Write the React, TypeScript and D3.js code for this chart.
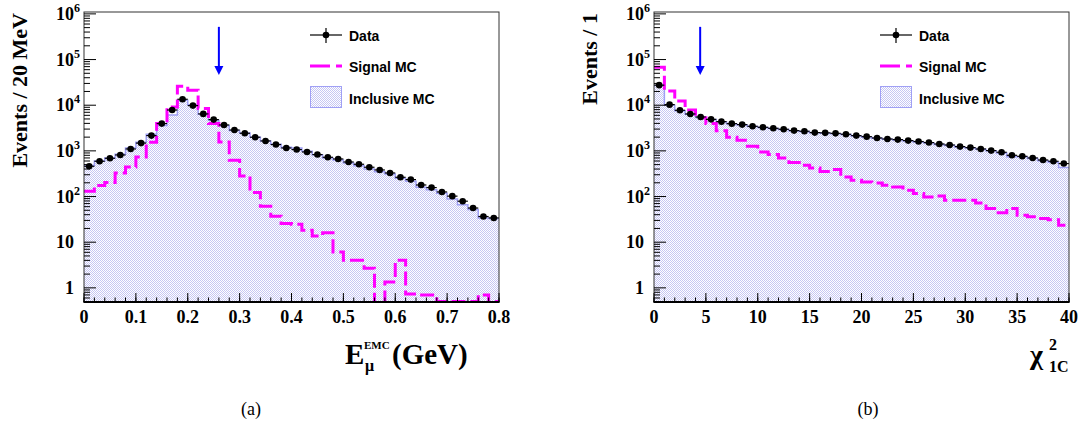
import React from "react";
import * as d3 from "d3";

// ---------- data (left panel: E_mu^EMC, 40 bins of 20 MeV from 0 to 0.8 GeV) ----------
const leftDomain = [0, 0.8];
const leftTickLabels = ["0", "0.1", "0.2", "0.3", "0.4", "0.5", "0.6", "0.7", "0.8"];
const leftData = [460, 592, 689, 813, 1100, 1480, 2160, 3960, 7850, 13500, 9800, 6450, 4840, 3690, 2860, 2430, 1990, 1650, 1375, 1157,
  1068, 946, 830, 724, 665, 571, 509, 438, 382, 328, 264, 235, 179, 157, 126, 102, 79, 56, 36.5, 34];
const leftInclusive = [480, 600, 700, 840, 1150, 1550, 2300, 3600, 6100, 12800, 10200, 6300, 4700, 3600, 2800, 2450, 2000, 1650, 1400, 1200,
  1150, 980, 820, 700, 630, 540, 470, 400, 350, 310, 250, 215, 160, 140, 118, 88, 66, 52, 34, 33];
const leftSignal = [131, 175, 202, 329, 444, 736, 1540, 3960, 9140, 25900, 21200, 8420, 3960, 1566, 622, 282, 122, 61, 37, 25.7,
  24.8, 18.3, 13.7, 16, 6.1, 4.0, 4.0, 2.7, 0, 1.35, 4.0, 0.73, 0.7, 0.7, 0.5, 0.5, 0.5, 0.5, 0.7, 0.5];
const leftArrow = { x: 0.26, top: 5.2e5, tip: 4.6e4 };

// ---------- data (right panel: chi2_1C, 40 bins of width 1 from 0 to 40) ----------
const rightDomain = [0, 40];
const rightTickLabels = ["0", "5", "10", "15", "20", "25", "30", "35", "40"];
const rightData = [27500, 10300, 7740, 6430, 5520, 4900, 4370, 3950, 3760, 3450, 3280, 3120, 2970, 2780, 2690, 2510, 2480, 2420, 2310, 2160,
  2050, 1915, 1820, 1765, 1680, 1600, 1520, 1415, 1345, 1240, 1180, 1100, 1015, 932, 800, 760, 700, 631, 592, 527];
const rightInclusive = [27000, 10000, 7600, 6300, 5400, 4850, 4300, 3900, 3700, 3400, 3250, 3100, 2950, 2760, 2650, 2500, 2430, 2380, 2280, 2120,
  2000, 1880, 1790, 1730, 1650, 1560, 1480, 1380, 1310, 1200, 1160, 1080, 1000, 900, 740, 740, 680, 610, 560, 430];
const rightSignal = [68000, 20600, 12400, 7850, 5300, 3960, 2760, 1980, 1700, 1270, 946, 836, 700, 557, 484, 420, 355, 390, 268, 228,
  209, 199, 177, 162, 137, 116, 98, 103, 83, 83, 83, 72, 55, 44, 55, 39, 36, 33, 31, 23.5];
const rightArrow = { x: 4.45, top: 5.2e5, tip: 4.6e4 };

const legendLabels = ["Data", "Signal MC", "Inclusive MC"];
const yDomain = [0.49, 1.1e6];

const PLOT_TOP = 12;
const PLOT_BOTTOM = 302;
const SERIF = "'Liberation Serif', 'Times New Roman', serif";
const SANS = "'Liberation Sans', Arial, Helvetica, sans-serif";
const MAGENTA = "#ff00ff";
const MCBLUE = "#a0a0f5";

type PanelProps = {
  id: string;
  x0: number;
  x1: number;
  domain: number[];
  tickLabels: string[];
  minorPerMajor: number;
  data: number[];
  inclusive: number[];
  signal: number[];
  arrow: { x: number; top: number; tip: number };
  yTitle: string;
  yTitleX: number;
};

function Panel(p: PanelProps) {
  const x = d3.scaleLinear().domain(p.domain).range([p.x0, p.x1]);
  const y = d3.scaleLog().domain(yDomain).range([PLOT_BOTTOM, PLOT_TOP]);
  const n = p.data.length;
  const bw = (p.domain[1] - p.domain[0]) / n;
  const edges = d3.range(n + 1).map((i) => p.domain[0] + i * bw);
  const yv = (v: number) => (v > 0 ? y(v) : PLOT_BOTTOM + 20);

  const stepPath = (vals: number[]) => {
    let d = `M${x(edges[0])},${yv(vals[0])}`;
    vals.forEach((v, i) => {
      if (i > 0) d += `V${yv(v)}`;
      d += `H${x(edges[i + 1])}`;
    });
    return d;
  };
  const fillPath = (vals: number[]) => {
    let d = `M${x(edges[0])},${PLOT_BOTTOM}`;
    vals.forEach((v, i) => {
      d += `V${yv(v)}H${x(edges[i + 1])}`;
    });
    d += `V${PLOT_BOTTOM}Z`;
    return d;
  };

  const majors = d3.range(0, 7).map((e) => Math.pow(10, e));
  const minors: number[] = [];
  for (let e = -1; e <= 6; e++) {
    for (let k = 2; k <= 9; k++) {
      const v = k * Math.pow(10, e);
      if (v >= yDomain[0] && v <= yDomain[1]) minors.push(v);
    }
  }
  const majorStep = (p.domain[1] - p.domain[0]) / (p.tickLabels.length - 1);
  const xMajors = p.tickLabels.map((_, i) => p.domain[0] + i * majorStep);
  const xMinors = d3
    .range(0, (p.tickLabels.length - 1) * p.minorPerMajor + 1)
    .map((i) => p.domain[0] + (i * majorStep) / p.minorPerMajor);

  const lx = p.x0 + 226;
  const clipId = `clip-${p.id}`;
  const ax = x(p.arrow.x);

  return (
    <g>
      <defs>
        <clipPath id={clipId}>
          <rect x={p.x0} y={PLOT_TOP} width={p.x1 - p.x0} height={PLOT_BOTTOM - PLOT_TOP} />
        </clipPath>
      </defs>
      <g clipPath={`url(#${clipId})`}>
        <path d={fillPath(p.inclusive)} fill="url(#dots)" stroke="none" />
        <path d={stepPath(p.inclusive)} fill="none" stroke={MCBLUE} strokeWidth={1.5} />
        <path d={stepPath(p.signal)} fill="none" stroke={MAGENTA} strokeWidth={3} strokeDasharray="14 5" />
        {p.data.map((v, i) => (
          <g key={i}>
            <line x1={x(edges[i])} x2={x(edges[i + 1])} y1={y(v)} y2={y(v)} stroke="#000" strokeWidth={1.2} />
            <circle cx={x(edges[i] + bw / 2)} cy={y(v)} r={3.3} fill="#000" />
          </g>
        ))}
      </g>
      <line x1={ax} x2={ax} y1={y(p.arrow.top)} y2={y(p.arrow.tip) - 7} stroke="#0000ff" strokeWidth={2} />
      <path
        d={`M${ax - 4.5},${y(p.arrow.tip) - 9}L${ax + 4.5},${y(p.arrow.tip) - 9}L${ax},${y(p.arrow.tip)}Z`}
        fill="#0000ff"
      />
      <rect x={p.x0} y={PLOT_TOP} width={p.x1 - p.x0} height={PLOT_BOTTOM - PLOT_TOP} fill="none" stroke="#333" strokeWidth={1} />
      <line x1={p.x0 - 0.5} x2={p.x1 + 0.5} y1={PLOT_BOTTOM} y2={PLOT_BOTTOM} stroke="#000" strokeWidth={2} />
      {majors.map((v) => (
        <line key={`M${v}`} x1={p.x0} x2={p.x0 + 12} y1={y(v)} y2={y(v)} stroke="#000" strokeWidth={1} />
      ))}
      {minors.map((v) => (
        <line key={`m${v}`} x1={p.x0} x2={p.x0 + 6} y1={y(v)} y2={y(v)} stroke="#000" strokeWidth={1} />
      ))}
      {majors.map((v, e) =>
        e < 2 ? (
          <text key={`t${e}`} x={p.x0 - 10} y={y(v) + 6} textAnchor="end" fontFamily={SERIF} fontWeight="bold" fontSize={18}>
            {e === 0 ? "1" : "10"}
          </text>
        ) : (
          <text key={`t${e}`} x={p.x0 - 4} y={y(v) + 6} textAnchor="end" fontFamily={SERIF} fontWeight="bold" fontSize={18}>
            10
            <tspan fontSize={12} dy={-8}>
              {e}
            </tspan>
          </text>
        )
      )}
      {xMinors.map((v, i) => (
        <line key={`xm${i}`} x1={x(v)} x2={x(v)} y1={PLOT_BOTTOM} y2={PLOT_BOTTOM - 4.5} stroke="#000" strokeWidth={1} />
      ))}
      {xMajors.map((v, i) => (
        <line key={`xM${i}`} x1={x(v)} x2={x(v)} y1={PLOT_BOTTOM} y2={PLOT_BOTTOM - 9} stroke="#000" strokeWidth={1} />
      ))}
      {xMajors.map((v, i) => (
        <text key={`xt${i}`} x={x(v)} y={323} textAnchor="middle" fontFamily={SERIF} fontWeight="bold" fontSize={18}>
          {p.tickLabels[i]}
        </text>
      ))}
      <text
        transform={`translate(${p.yTitleX},${PLOT_TOP + 1}) rotate(-90)`}
        textAnchor="end"
        fontFamily={SERIF}
        fontWeight="bold"
        fontSize={22}
      >
        {p.yTitle}
      </text>
      <g fontFamily={SANS} fontWeight="bold" fontSize={14}>
        <line x1={lx} x2={lx + 32} y1={35} y2={35} stroke="#000" strokeWidth={1.2} />
        <line x1={lx + 16} x2={lx + 16} y1={28} y2={43} stroke="#000" strokeWidth={1.2} />
        <circle cx={lx + 16} cy={35} r={3.3} fill="#000" />
        <text x={lx + 39} y={40.5}>{legendLabels[0]}</text>
        <line x1={lx} x2={lx + 32} y1={66} y2={66} stroke={MAGENTA} strokeWidth={3} strokeDasharray="20 6" />
        <text x={lx + 39} y={71.5}>{legendLabels[1]}</text>
        <rect x={lx + 0.5} y={86.5} width={31} height={21} fill="url(#dots)" stroke={MCBLUE} strokeWidth={1} />
        <text x={lx + 39} y={104}>{legendLabels[2]}</text>
      </g>
    </g>
  );
}

export default function App() {
  return (
    <svg width={1079} height={421} style={{ position: "absolute", left: 0, top: 0, background: "#fff" }}>
      <defs>
        <pattern id="dots" width={2} height={2} patternUnits="userSpaceOnUse">
          <rect width={2} height={2} fill="#ffffff" />
          <rect x={0} y={0} width={1} height={1} fill="#c6c6f3" />
          <rect x={1} y={1} width={1} height={1} fill="#c6c6f3" />
        </pattern>
      </defs>
      <rect width={1079} height={421} fill="#fff" />
      <Panel
        id="a"
        x0={84}
        x1={499}
        domain={leftDomain}
        tickLabels={leftTickLabels}
        minorPerMajor={5}
        data={leftData}
        inclusive={leftInclusive}
        signal={leftSignal}
        arrow={leftArrow}
        yTitle="Events / 20 MeV"
        yTitleX={27}
      />
      <Panel
        id="b"
        x0={654}
        x1={1069}
        domain={rightDomain}
        tickLabels={rightTickLabels}
        minorPerMajor={5}
        data={rightData}
        inclusive={rightInclusive}
        signal={rightSignal}
        arrow={rightArrow}
        yTitle="Events / 1"
        yTitleX={597}
      />
      <g fontFamily={SERIF} fontWeight="bold">
        <text x={345} y={364} fontSize={29}>E</text>
        <text x={365} y={371} fontSize={16}>μ</text>
        <text x={364} y={349} fontSize={11}>EMC</text>
        <text x={392} y={364} fontSize={29}>(GeV)</text>
        <text x={1030} y={364} fontSize={28}>χ</text>
        <text x={1049} y={350} fontSize={16}>2</text>
        <text x={1049} y={372} fontSize={16}>1C</text>
      </g>
      <text x={251} y={415} textAnchor="middle" fontFamily={SERIF} fontSize={18}>(a)</text>
      <text x={868} y={415} textAnchor="middle" fontFamily={SERIF} fontSize={18}>(b)</text>
    </svg>
  );
}
